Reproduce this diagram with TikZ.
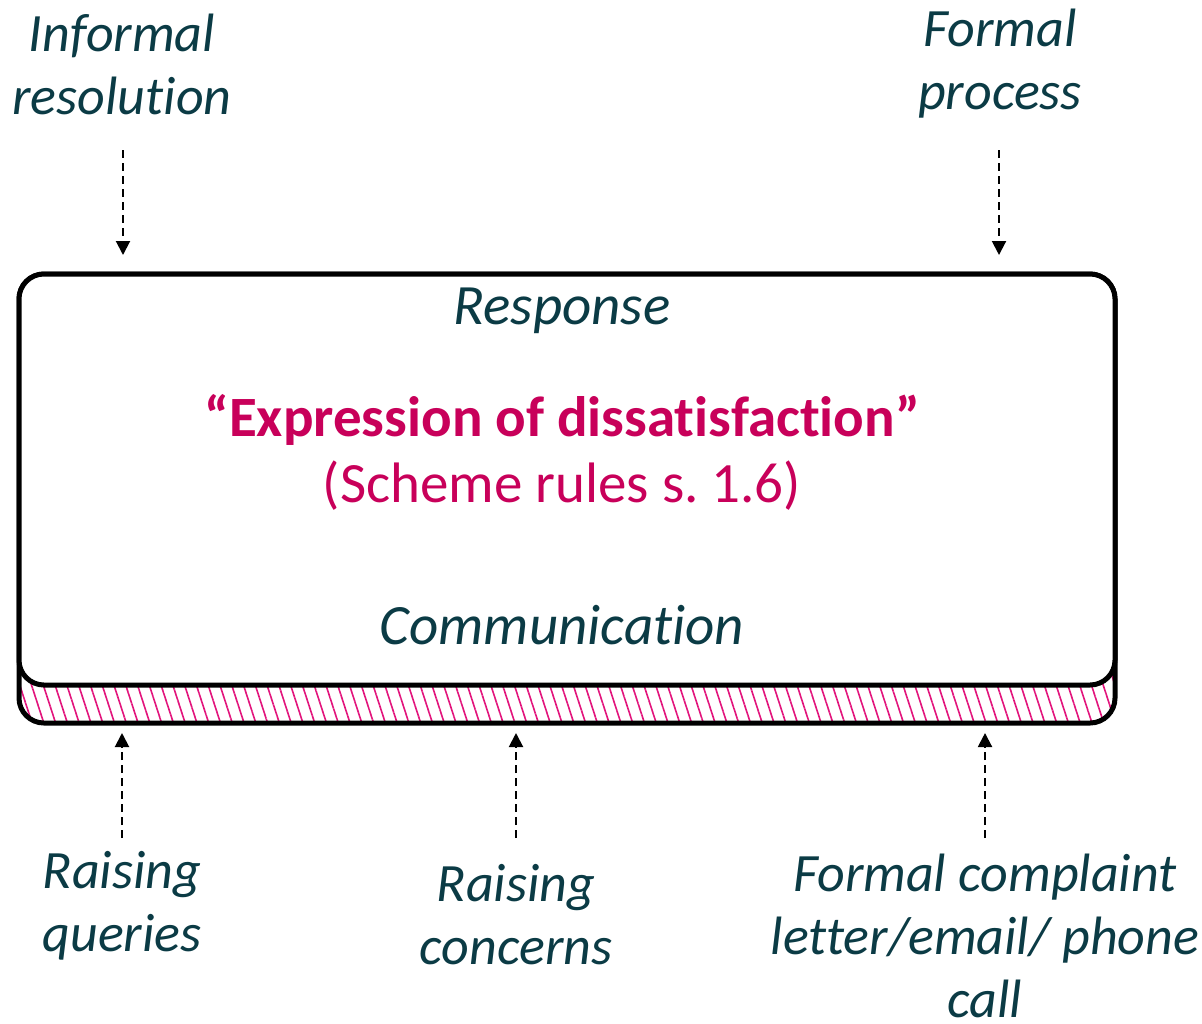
\documentclass[tikz,border=0pt]{standalone}
\usepackage{fontspec}
\setmainfont{Carlito}[Ligatures=NoCommon]
\usetikzlibrary{arrows.meta,patterns.meta}

\definecolor{DarkTeal}{HTML}{0B3B45}
\definecolor{Claret}{HTML}{C8005A}
\definecolor{HatchPink}{HTML}{E2147C}

\begin{document}
\begin{tikzpicture}[x=0.5pt,y=-0.5pt]
  \tikzset{LabelStyle/.style = {
    text          = DarkTeal,
    font          = \fontsize{27pt}{31.5pt}\selectfont\itshape,
    align         = center,
    inner sep     = 0pt
    }
  }
  \tikzset{KeyStyle/.style = {
    text          = Claret,
    font          = \fontsize{28.5pt}{31.5pt}\selectfont,
    align         = center,
    inner sep     = 0pt
    }
  }
  \tikzset{ShellStyle/.style = {
    shape         = rectangle,
    draw          = black,
    line width    = 2.5pt,
    rounded corners = 12.5pt,
    minimum width = 548pt,
    minimum height = 224.5pt,
    outer sep     = 0pt,
    pattern       = {Lines[angle=-72,distance=5.6pt,line width=0.8pt]},
    pattern color = HatchPink
    }
  }
  \tikzset{FaceStyle/.style = {
    shape         = rectangle,
    draw          = black,
    fill          = white,
    line width    = 2.5pt,
    rounded corners = 12.5pt,
    minimum width = 548pt,
    minimum height = 205.5pt,
    outer sep     = 0pt
    }
  }
  \tikzset{FlowStyle/.style = {
    draw          = black,
    line width    = 1pt,
    dash pattern  = on 4pt off 2.5pt,
    -{Triangle[width=7pt,length=7pt]}
    }
  }

  \useasboundingbox (0,0) rectangle (1202,1023);

  % box with its hatched base
  \node[ShellStyle](Shell) at (567,498.5) {};
  \node[FaceStyle](Face) at (567,479.5) {};

  \node[LabelStyle,font=\fontsize{28.5pt}{31.5pt}\selectfont\itshape](Response) at (562,311) {Response};
  \node[KeyStyle,font=\fontsize{28.5pt}{31.5pt}\selectfont\bfseries](Expression) at (562,420) {“Expression of dissatisfaction”};
  \node[KeyStyle](Rules) at (562,486) {(Scheme rules s.\ 1.6)};
  \node[LabelStyle,font=\fontsize{28.5pt}{31.5pt}\selectfont\itshape](Communication) at (562,625) {Communication};

  % labels above and below
  \node[LabelStyle](Informal) at (122,64) {Informal\\resolution};
  \node[LabelStyle](Formal) at (1000,64) {Formal\\process};
  \node[LabelStyle](Queries) at (122,906) {Raising\\queries};
  \node[LabelStyle](Concerns) at (516,915) {Raising\\concerns};
  \node[LabelStyle](Complaint) at (985,936) {Formal complaint\\letter/email/ phone\\call};

  \coordinate (InformalTail) at (123,150);
  \coordinate (FormalTail) at (999,150);
  \coordinate (QueriesTail) at (122,838);
  \coordinate (ConcernsTail) at (516,838);
  \coordinate (ComplaintTail) at (985,838);

  \draw[FlowStyle,shorten >=9.5pt](InformalTail) -- (InformalTail |- Face.north);
  \draw[FlowStyle,shorten >=9.5pt](FormalTail) -- (FormalTail |- Face.north);
  \draw[FlowStyle,shorten >=5pt](QueriesTail) -- (QueriesTail |- Shell.south);
  \draw[FlowStyle,shorten >=5pt](ConcernsTail) -- (ConcernsTail |- Shell.south);
  \draw[FlowStyle,shorten >=5pt](ComplaintTail) -- (ComplaintTail |- Shell.south);

\end{tikzpicture}
\end{document}
